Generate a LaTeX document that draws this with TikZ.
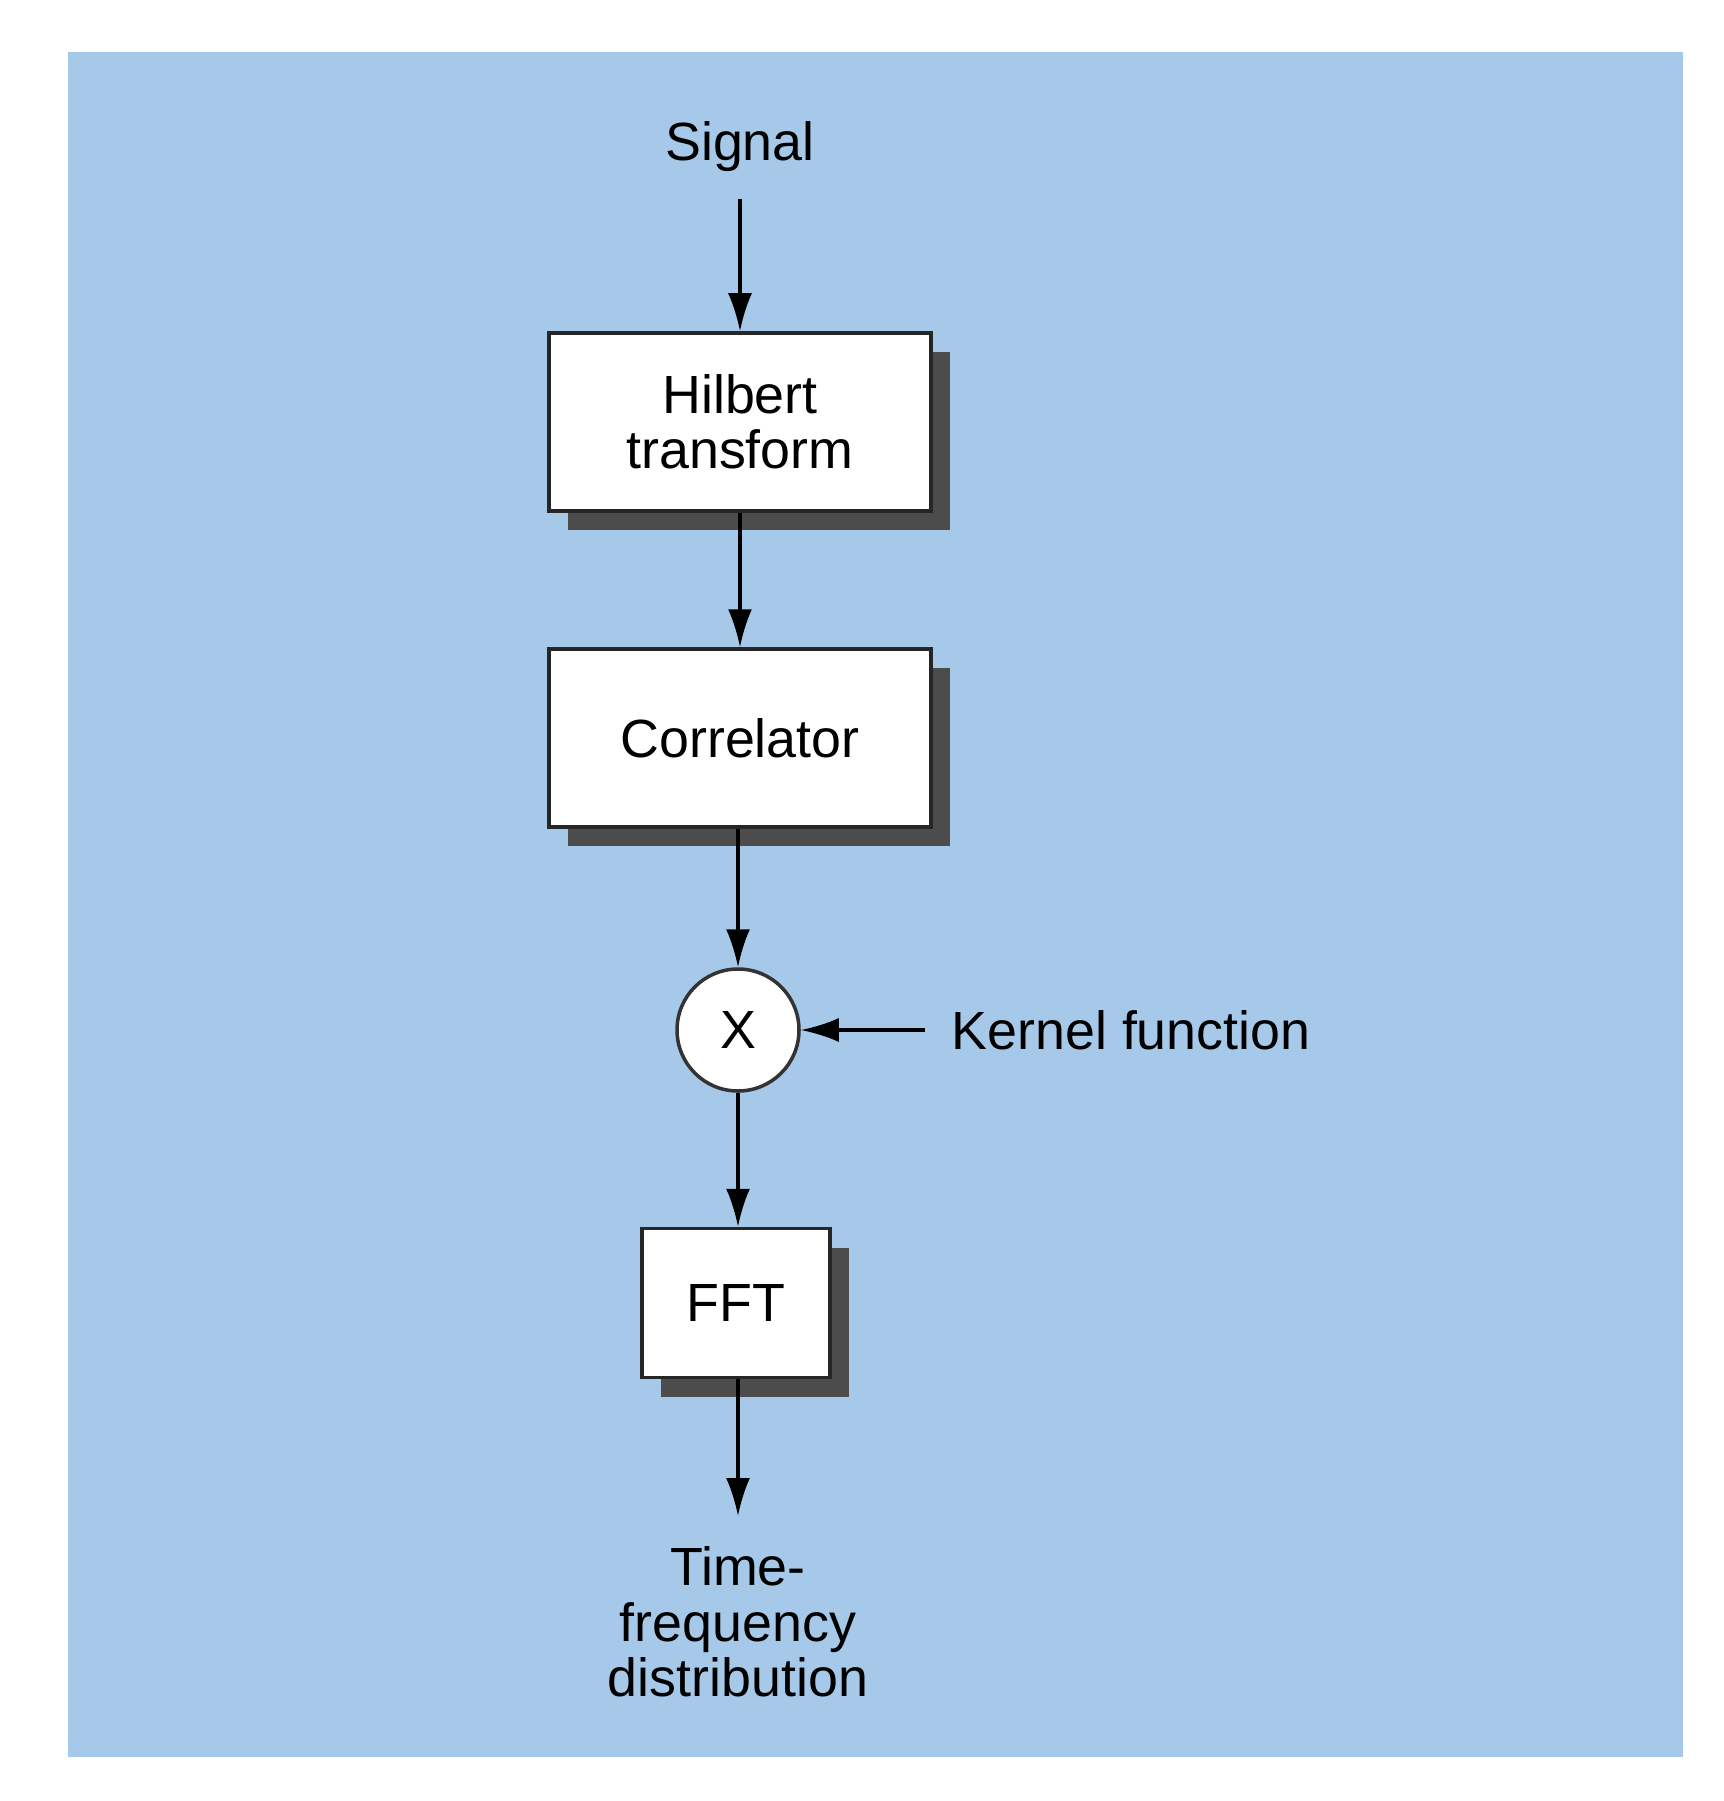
\documentclass[tikz,border=0pt]{standalone}
\usepackage{fontspec}
\setmainfont{Liberation Sans}
\usetikzlibrary{arrows.meta,shadows}
\definecolor{paneblue}{RGB}{166,201,234}
\tikzset{
    block/.style={draw=black!85, line width=1pt, fill=white, align=center,
        minimum width=3.82cm, minimum height=1.78cm,
        drop shadow={shadow xshift=0.19cm, shadow yshift=-0.19cm, fill=black!70, opacity=1}},
    mixer/.style={circle, draw=black!80, line width=1pt, fill=white,
        minimum size=1.22cm, inner sep=0pt},
    flow/.style={-{Latex[length=0.38cm,width=0.24cm]}, line width=0.9pt},
}
\begin{document}
\begin{tikzpicture}[font=\fontsize{15.3}{15.8}\selectfont]
    \useasboundingbox (0,0) rectangle (17.24,-18.01);
    \fill[paneblue] (0.68,-0.52) rectangle (16.83,-17.57);

    % Input
    \node[anchor=base, inner sep=0.27cm] (signal) at (7.40,-1.60) {Signal};

    % Processing chain
    \node[block] (hilbert) at (7.40,-4.22) {Hilbert\\transform};
    \node[block] (correlator) at (7.40,-7.38) {Correlator};
    \node[mixer] (mult) at (7.38,-10.30) {X};
    \node[block, minimum width=1.88cm, minimum height=1.49cm] (fft) at (7.36,-13.03) {FFT};

    % Kernel input and output
    \node[anchor=west, inner xsep=0.26cm] (kernel) at (9.25,-10.30) {Kernel function};
    \node[anchor=north, align=center, inner sep=0.3cm] (output) at (7.38,-15.16) {Time-\\frequency\\distribution};

    \draw[flow] (signal) -- (hilbert);
    \draw[flow] (hilbert) -- (correlator);
    \draw[flow] (correlator.south -| mult) -- (mult);
    \draw[flow] (kernel) -- (mult);
    \draw[flow] (mult) -- (mult |- fft.north);
    \draw[flow] (fft.south -| mult) -- (output);
\end{tikzpicture}
\end{document}
